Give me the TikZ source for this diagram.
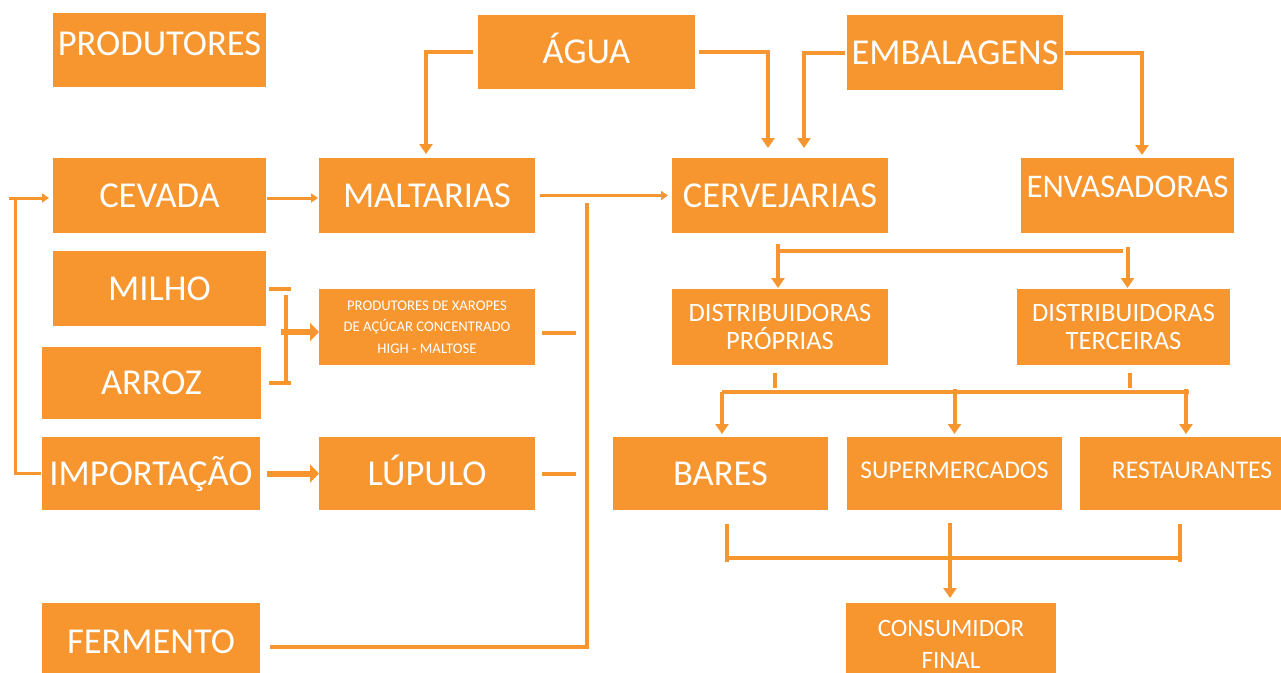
\documentclass[tikz,border=0pt]{standalone}
\usepackage{fontspec}
\setmainfont{Carlito}
\usetikzlibrary{arrows.meta,calc}
\definecolor{org}{RGB}{247,149,47}
\tikzset{
  mbox/.style={fill=org, text=white, inner sep=0pt, outer sep=0pt, align=center},
  box/.style={mbox, font=\fontsize{36.5}{42}\selectfont, text height=23pt, text depth=0pt},
  bx/.style 2 args={minimum width=#1pt, minimum height=#2pt},
  ln/.style={draw=org, line width=4pt},
  lnt/.style={draw=org, line width=3pt},
  lnk/.style={draw=org, line width=6pt},
  arrB/.style={-{Triangle[width=13pt,length=10pt]}},
  arrS/.style={-{Triangle[width=9pt,length=7pt]}},
  arrT/.style={-{Triangle[width=18pt,length=9pt]}},
}
\begin{document}
\begin{tikzpicture}[x=1pt,y=-1pt]
\useasboundingbox (0,0) rectangle (1281,672);
\clip (0,0) rectangle (1281,672);
% nodes
\node[box,bx={213}{74},text depth=12pt] (prod) at (159.5,50) {PRODUTORES};
\node[box,bx={217}{74}] (agua) at (586.5,52) {ÁGUA};
\node[box,bx={216}{75}] (emb) at (955,52.5) {EMBALAGENS};
\node[box,bx={213}{75}] (cev) at (159.5,195.5) {CEVADA};
\node[box,bx={216}{75}] (malt) at (427,195.5) {MALTARIAS};
\node[box,bx={216}{75}] (cerv) at (780,195.5) {CERVEJARIAS};
\node[box,bx={213}{75},font=\fontsize{33}{38}\selectfont,text height=20.8pt,text depth=16pt] (env) at (1127.5,195.5) {ENVASADORAS};
\node[box,bx={213}{75}] (milho) at (159.5,288.5) {MILHO};
\node[mbox,bx={216}{76},font=\fontsize{14.7}{21.5}\selectfont] (xar) at (427,327) {PRODUTORES DE XAROPES\\DE AÇÚCAR CONCENTRADO\\HIGH - MALTOSE};
\node[box,bx={219}{72}] (arroz) at (151.5,382.5) {ARROZ};
\node[mbox,bx={216}{76},font=\fontsize{26.5}{28}\selectfont] (dp) at (780,327) {DISTRIBUIDORAS\\PRÓPRIAS};
\node[mbox,bx={213}{76},font=\fontsize{26.5}{28}\selectfont] (dt) at (1123.5,327) {DISTRIBUIDORAS\\TERCEIRAS};
\node[box,bx={218}{73}] (imp) at (151,473.5) {IMPORTAÇÃO};
\node[box,bx={216}{73}] (lup) at (427,473.5) {LÚPULO};
\node[box,bx={215}{73}] (bares) at (720.5,473.5) {BARES};
\node[box,bx={215}{73},font=\fontsize{25.5}{30}\selectfont,text height=16.1pt,text depth=7pt] (sup) at (954.5,473.5) {SUPERMERCADOS};
\node[box,bx={224}{73},font=\fontsize{25.5}{30}\selectfont,text height=16.1pt,text depth=7pt] (rest) at (1192,473.5) {RESTAURANTES};
\node[box,bx={218}{77}] (ferm) at (151,641.5) {FERMENTO};
\node[mbox,bx={210}{83},font=\fontsize{25}{32}\selectfont] (cons) at (951,644.5) {CONSUMIDOR\\FINAL};
% helper coordinates
\coordinate (lb) at (15,473);
\coordinate (jn) at (286,332);
\coordinate (cl) at (587,203);
\coordinate (hb) at (0,392);
\coordinate (hc) at (0,558);
% left bracket
\draw[lnt,arrS,shorten >=4pt] ([xshift=-1pt]imp.west) -- (imp.west -| lb) |- ([yshift=-2.5pt]cev.west);
\draw[lnt] ([yshift=-2.5pt]cev.west -| lb) -- ++(-6,0);
\draw[lnt,arrS,shorten <=1pt,shorten >=1pt] ([yshift=-2.5pt]cev.east) -- ([yshift=-2.5pt]malt.west);
% milho / arroz
\draw[ln] ([xshift=3pt]milho.east) -- ([xshift=5pt]milho.east -| jn);
\draw[ln] ([xshift=8pt]arroz.east) -- ([xshift=5pt]arroz.east -| jn);
\draw[ln] ([yshift=-6pt]milho.east -| jn) -- (arroz.east -| jn);
\draw[lnk,arrT] ([xshift=-5pt]jn) -- (xar.west |- jn);
\draw[lnk,arrT,shorten <=7pt] (imp.east) -- (lup.west);
% agua / embalagens
\draw[ln,arrB,shorten <=5pt,shorten >=4pt] (agua.west) -| ([xshift=-1pt]malt.north);
\draw[ln,arrB,shorten <=4pt,shorten >=10pt] (agua.east) -| ([xshift=-12pt]cerv.north);
\draw[ln,arrB,shorten <=2pt,shorten >=10pt] (emb.west) -| ([xshift=24pt]cerv.north);
\draw[ln,arrB,shorten <=2pt,shorten >=3pt] (emb.east) -| ([xshift=14.5pt]env.north);
\draw[lnt,arrS,shorten <=5pt,shorten >=4pt] (malt.east) -- (cerv.west);
% collecting line
\draw[ln] ([xshift=10pt,yshift=-5.5pt]ferm.east) -- ([yshift=-5.5pt]ferm.east -| cl) -- (cl);
\draw[ln] ([xshift=7pt,yshift=-6pt]xar.east) -- ([xshift=-11pt,yshift=-6pt]xar.east -| cl);
\draw[ln] ([xshift=7pt]lup.east) -- ([xshift=-11pt]lup.east -| cl);
% distributors
\draw[ln,arrB,shorten >=1pt] ([xshift=-2pt,yshift=-11pt]cerv.south) -- ([xshift=-2pt]dp.north);
\draw[ln] ([xshift=-2pt,yshift=-18pt]cerv.south) -- ([xshift=-5pt,yshift=-18pt]cerv.south -| env.south);
\draw[ln,arrB,shorten >=1pt] ([yshift=-14pt]env.south) -- (env.south |- dt.north);
% to retail
\draw[ln] ([xshift=-5pt,yshift=-8pt]dp.south) -- ([xshift=-5pt,yshift=-23pt]dp.south);
\draw[ln] ([xshift=6pt,yshift=-8pt]dt.south) -- ([xshift=6pt,yshift=-23pt]dt.south);
\draw[ln] ([xshift=1.5pt]bares.north |- hb) -- ([xshift=-3pt]rest.north |- hb);
\draw[ln,arrB,shorten >=3pt] ([xshift=1.5pt]bares.north |- hb) -- ([xshift=1.5pt]bares.north);
\draw[ln,arrB,shorten >=3pt] ([yshift=3pt]sup.north |- hb) -- (sup.north);
\draw[ln,arrB,shorten >=3pt] ([xshift=-6pt,yshift=3pt]rest.north |- hb) -- ([xshift=-6pt]rest.north);
% to consumer
\draw[ln] ([xshift=6.5pt,yshift=-14pt]bares.south) -- ([xshift=6.5pt,yshift=-4pt]bares.south |- hc);
\draw[ln] ([xshift=-12pt,yshift=-14pt]rest.south) -- ([xshift=-12pt,yshift=-4pt]rest.south |- hc);
\draw[ln] ([xshift=6.5pt]bares.south |- hc) -- ([xshift=-12pt]rest.south |- hc);
\draw[ln,arrB,shorten >=5pt] ([xshift=-1pt,yshift=-13pt]sup.south -| cons.north) -- ([xshift=-1pt]cons.north);
\end{tikzpicture}
\end{document}
